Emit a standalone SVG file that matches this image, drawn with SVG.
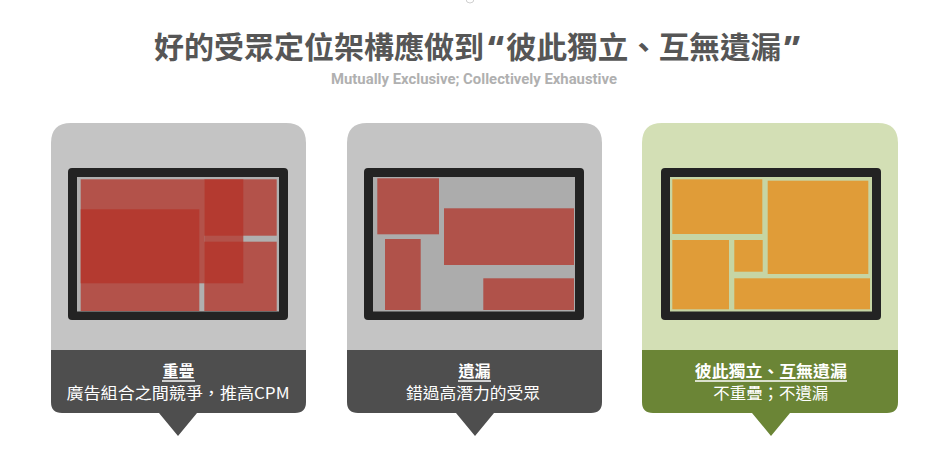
<svg xmlns="http://www.w3.org/2000/svg" width="931" height="475" viewBox="0 0 931 475">
<style>
.title{font-family:"Noto Sans CJK TC","Noto Sans",sans-serif;font-weight:700;font-size:30px;fill:#565656}
.q{font-family:"Noto Sans","Liberation Sans",sans-serif;font-weight:800;font-size:34px;fill:#565656}
.sub{font-family:Roboto,"Liberation Sans",sans-serif;font-weight:700;font-size:14px;fill:#b0b0b0}
.lab{font-family:"Noto Sans CJK TC","Noto Sans",sans-serif;font-size:16px;fill:#ffffff;text-anchor:middle}
.labb{font-weight:700}
.frame{fill:#232323}
.red{fill:#b43227;fill-opacity:0.745}
.redo{fill:#b0524a}
.org{fill:#e09c38}
.ul{stroke:#ffffff;stroke-width:1.5}
</style>
<rect width="931" height="475" fill="#ffffff"/>
<circle cx="470" cy="-1" r="4" fill="none" stroke="#d0d0d0" stroke-width="1"/>
<g id="heading">
<text class="title" x="154" y="58" textLength="330" lengthAdjust="spacingAndGlyphs">好的受眾定位架構應做到</text>
<text class="q" x="488" y="60">“</text>
<text class="title" x="506" y="58" textLength="275" lengthAdjust="spacingAndGlyphs">彼此獨立、互無遺漏</text>
<text class="q" x="784" y="60">”</text>
<text class="sub" x="331" y="84" textLength="286" lengthAdjust="spacingAndGlyphs">Mutually Exclusive; Collectively Exhaustive</text>
</g>
<g id="card-overlap">
<path d="M51,143 Q51,123 71,123 L286,123 Q306,123 306,143 L306,350 L51,350 Z" fill="#c4c4c4"/>
<path d="M51,350 L306,350 L306,402 Q306,413 295,413 L197,413 L178,436 L159,413 L62,413 Q51,413 51,402 Z" fill="#4e4e4e"/>
<rect class="frame" x="68" y="168" width="220" height="152" rx="4"/>
<rect x="77" y="177" width="202" height="134.5" fill="#b0b0b0"/>
<rect class="red" x="80.7" y="179.3" width="123.6" height="104"/>
<rect class="red" x="80.7" y="209.3" width="118.6" height="101.7"/>
<rect class="red" x="204.3" y="179.3" width="39" height="104"/>
<rect class="red" x="204.3" y="179.3" width="72.4" height="56.4"/>
<rect class="red" x="204.3" y="241.7" width="72.4" height="69.3"/>
<text class="lab labb" x="178.5" y="377">重疊</text>
<line class="ul" x1="162" y1="381" x2="195" y2="381"/>
<text class="lab" x="178" y="399" textLength="223" lengthAdjust="spacingAndGlyphs">廣告組合之間競爭，推高CPM</text>
</g>
<g id="card-gap">
<path d="M347,143 Q347,123 367,123 L582,123 Q602,123 602,143 L602,350 L347,350 Z" fill="#c4c4c4"/>
<path d="M347,350 L602,350 L602,402 Q602,413 591,413 L494,413 L475,436 L456,413 L358,413 Q347,413 347,402 Z" fill="#4e4e4e"/>
<rect class="frame" x="364" y="168" width="220" height="152" rx="4"/>
<rect x="373" y="177" width="202" height="134.5" fill="#acacac"/>
<rect class="redo" x="377.3" y="178.3" width="61.7" height="56"/>
<rect class="redo" x="444" y="208.3" width="130" height="56.7"/>
<rect class="redo" x="385" y="239" width="35.7" height="71"/>
<rect class="redo" x="483.3" y="278.3" width="90.7" height="31.7"/>
<text class="lab labb" x="474.5" y="377">遺漏</text>
<line class="ul" x1="458" y1="381" x2="491" y2="381"/>
<text class="lab" x="473" y="399" textLength="134" lengthAdjust="spacingAndGlyphs">錯過高潛力的受眾</text>
</g>
<g id="card-mece">
<path d="M642,143 Q642,123 662,123 L878,123 Q898,123 898,143 L898,350 L642,350 Z" fill="#d3dfb5"/>
<path d="M642,350 L898,350 L898,402 Q898,413 887,413 L790,413 L771,436 L752,413 L653,413 Q642,413 642,402 Z" fill="#6b8536"/>
<rect class="frame" x="661" y="168" width="220" height="152" rx="4"/>
<rect x="670" y="177" width="202" height="134.5" fill="#c6d5a4"/>
<rect class="org" x="672.3" y="179.3" width="90" height="54.7"/>
<rect class="org" x="767.7" y="180.7" width="100.6" height="93.3"/>
<rect class="org" x="672.3" y="240" width="56.7" height="69.3"/>
<rect class="org" x="734.3" y="240" width="28.4" height="31.7"/>
<rect class="org" x="734.3" y="278.3" width="135.7" height="31"/>
<text class="lab labb" x="770.8" y="377" textLength="152" lengthAdjust="spacingAndGlyphs">彼此獨立、互無遺漏</text>
<line class="ul" x1="695" y1="381" x2="847" y2="381"/>
<text class="lab" x="770.8" y="399" textLength="115" lengthAdjust="spacingAndGlyphs">不重疊；不遺漏</text>
</g>
</svg>
